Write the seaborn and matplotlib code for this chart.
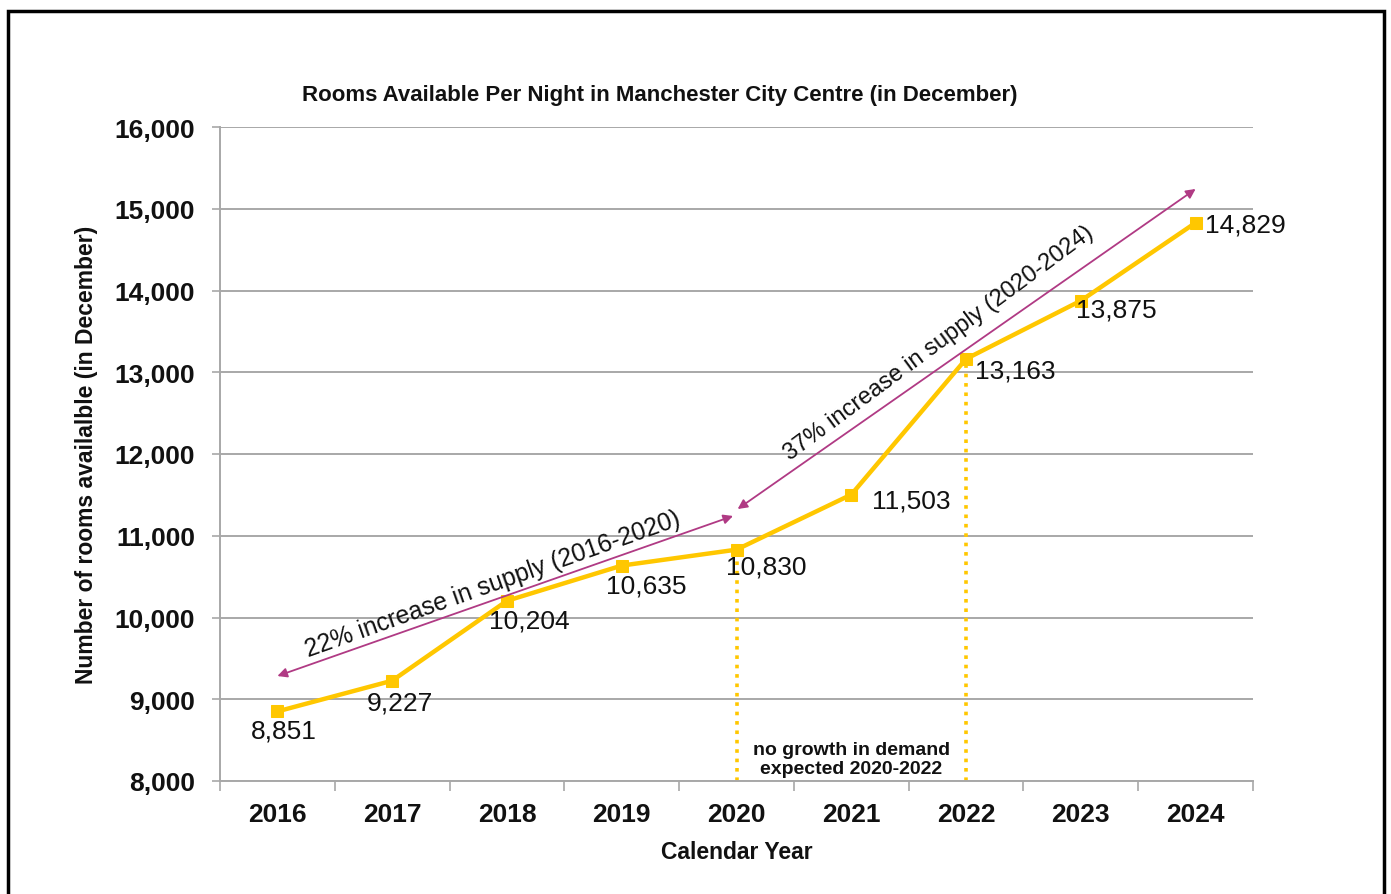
import matplotlib
matplotlib.use("Agg")
import matplotlib.pyplot as plt
from matplotlib.patches import Rectangle
import seaborn as sns
import pandas as pd

# ---- data ----
years = ["2016", "2017", "2018", "2019", "2020", "2021", "2022", "2023", "2024"]
rooms = [8851, 9227, 10204, 10635, 10830, 11503, 13163, 13875, 14829]
labels = ["8,851", "9,227", "10,204", "10,635", "10,830", "11,503", "13,163", "13,875", "14,829"]
yticks = [8000, 9000, 10000, 11000, 12000, 13000, 14000, 15000, 16000]
title = "Rooms Available Per Night in Manchester City Centre (in December)"
arrow_texts = ["22% increase in supply (2016-2020)", "37% increase in supply (2020-2024)"]
note_text = "no growth in demand\nexpected 2020-2022"

# label offsets in pixels (dx, dy) and horizontal alignment
label_off = [(6, -19, "center"), (8, -22, "center"), (22, -20, "center"),
             (25, -20, "center"), (30, -17, "center"), (21, -6, "left"),
             (9, -12, "left"), (-5, -9, "left"), (9, -2, "left")]

YELLOW = "#FFC700"
MAGENTA = "#B03A84"
GRID = "#A8A8A8"

sns.set_theme(style="white")
plt.rcParams["font.family"] = ["Liberation Sans", "DejaVu Sans"]

fig = plt.figure(figsize=(13.91, 8.95), dpi=100)
ax = fig.add_axes([220 / 1391, 1 - 782 / 895, 1033 / 1391, 654 / 895])

df = pd.DataFrame({"idx": list(range(len(years))), "rooms": rooms})

ax.set_ylim(yticks[0], yticks[-1])
ax.set_xlim(-0.5, len(years) - 0.5)
ax.set_yticks(yticks)
ax.set_yticklabels([f"{v:,}" for v in yticks])
for v in yticks:
    ax.axhline(v, color=GRID, lw=1.4, zorder=0)

# dotted vertical lines at 2020 and 2022
for i in (4, 6):
    ax.vlines(i, yticks[0], rooms[i], colors=YELLOW, linestyles=(0, (1, 1.6)), lw=2.6, zorder=1)

sns.lineplot(data=df, x="idx", y="rooms", ax=ax, color=YELLOW, lw=3.2,
             marker="s", markersize=8, markeredgecolor=YELLOW, zorder=3)

for i, (lab, (dx, dy, ha)) in enumerate(zip(labels, label_off)):
    ax.annotate(lab, (i, rooms[i]), xytext=(dx, dy), textcoords="offset pixels",
                ha=ha, va="center", fontsize=19, color="#111111")

# supply arrows
ax.annotate("", xy=(0.0, 9284), xytext=(3.97, 11242),
            arrowprops=dict(arrowstyle="<|-|>", color=MAGENTA, lw=1.3, mutation_scale=14,
                            shrinkA=0, shrinkB=0))
ax.annotate("", xy=(4.01, 11327), xytext=(8.0, 15242),
            arrowprops=dict(arrowstyle="<|-|>", color=MAGENTA, lw=1.3, mutation_scale=14,
                            shrinkA=0, shrinkB=0))
ax.text(1.88, 10410, arrow_texts[0], rotation=19.5, rotation_mode="anchor",
        ha="center", va="center", fontsize=17.8, color="#111111")
ax.text(5.76, 13370, arrow_texts[1], rotation=36.5, rotation_mode="anchor",
        ha="center", va="center", fontsize=17, color="#111111")

ax.text(5, 8270, note_text, ha="center", va="center", fontsize=14,
        fontweight="bold", color="#111111", linespacing=1.2)

# axes styling
ax.set_xticks(range(len(years)))
ax.set_xticklabels(years)
ax.set_xticks([i - 0.5 for i in range(len(years) + 1)], minor=True)
ax.tick_params(axis="x", which="major", length=0, pad=15, labelsize=19)
ax.tick_params(axis="x", which="minor", length=7, width=1.2, color=GRID, direction="out", bottom=True)
ax.tick_params(axis="y", length=6, width=1.2, color=GRID, direction="out", left=True, pad=12, labelsize=19)
for t in ax.get_xticklabels() + ax.get_yticklabels():
    t.set_fontweight("bold")
    t.set_color("#111111")
for s in ("top", "right"):
    ax.spines[s].set_visible(False)
for s in ("left", "bottom"):
    ax.spines[s].set_color(GRID)
    ax.spines[s].set_linewidth(1.4)

ax.set_xlabel("Calendar Year", fontsize=16.5, fontweight="bold", color="#111111")
ax.set_ylabel("Number of rooms availalble (in December)", fontsize=16.5, fontweight="bold", color="#111111")
ax.xaxis.set_label_coords(0.5, -0.090)
ax.yaxis.set_label_coords(-0.118, 0.5)

fig.text(660 / 1391, 1 - 96 / 895, title, ha="center", va="center", fontsize=16,
         fontweight="bold", color="#111111")

fig.patches.append(Rectangle((8 / 1391, -0.02), (1384 - 8) / 1391, 1.02 - 12 / 895,
                             transform=fig.transFigure, fill=False, ec="black", lw=2.5))

fig.savefig("out.png", dpi=100)
